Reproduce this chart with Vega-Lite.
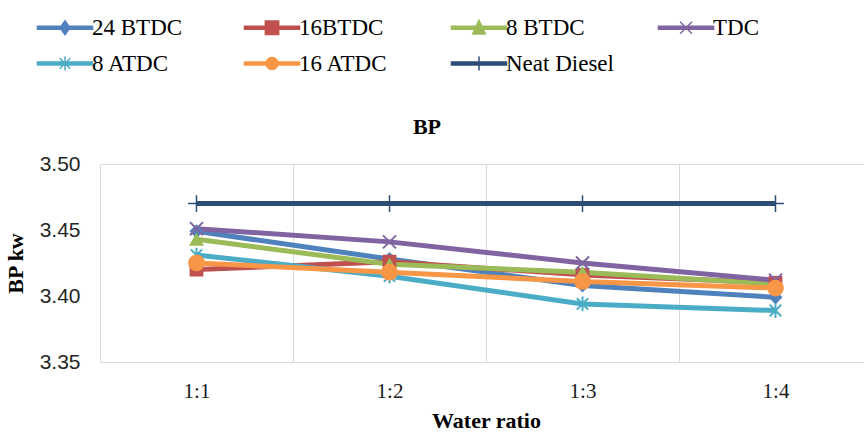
{
  "$schema": "https://vega.github.io/schema/vega-lite/v6.json",
  "width": 772,
  "height": 198,
  "autosize": {"type": "none"},
  "padding": {"left": 100, "top": 164, "right": 0, "bottom": 70},
  "background": "white",
  "title": {
    "text": "BP",
    "frame": "group",
    "anchor": "middle",
    "font": "Liberation Serif",
    "fontSize": 22,
    "fontWeight": "bold",
    "color": "black",
    "baseline": "alphabetic",
    "offset": 0,
    "dy": 140,
    "dx": -59
  },
  "data": {
    "values": [
      {"series": "24 BTDC", "ratio": "1:1", "bp": 3.449},
      {"series": "24 BTDC", "ratio": "1:2", "bp": 3.428},
      {"series": "24 BTDC", "ratio": "1:3", "bp": 3.408},
      {"series": "24 BTDC", "ratio": "1:4", "bp": 3.399},
      {"series": "16BTDC", "ratio": "1:1", "bp": 3.420},
      {"series": "16BTDC", "ratio": "1:2", "bp": 3.426},
      {"series": "16BTDC", "ratio": "1:3", "bp": 3.416},
      {"series": "16BTDC", "ratio": "1:4", "bp": 3.410},
      {"series": "8 BTDC", "ratio": "1:1", "bp": 3.443},
      {"series": "8 BTDC", "ratio": "1:2", "bp": 3.424},
      {"series": "8 BTDC", "ratio": "1:3", "bp": 3.418},
      {"series": "8 BTDC", "ratio": "1:4", "bp": 3.409},
      {"series": "TDC", "ratio": "1:1", "bp": 3.451},
      {"series": "TDC", "ratio": "1:2", "bp": 3.441},
      {"series": "TDC", "ratio": "1:3", "bp": 3.425},
      {"series": "TDC", "ratio": "1:4", "bp": 3.412},
      {"series": "8 ATDC", "ratio": "1:1", "bp": 3.431},
      {"series": "8 ATDC", "ratio": "1:2", "bp": 3.415},
      {"series": "8 ATDC", "ratio": "1:3", "bp": 3.394},
      {"series": "8 ATDC", "ratio": "1:4", "bp": 3.389},
      {"series": "16 ATDC", "ratio": "1:1", "bp": 3.425},
      {"series": "16 ATDC", "ratio": "1:2", "bp": 3.418},
      {"series": "16 ATDC", "ratio": "1:3", "bp": 3.411},
      {"series": "16 ATDC", "ratio": "1:4", "bp": 3.406},
      {"series": "Neat Diesel", "ratio": "1:1", "bp": 3.47},
      {"series": "Neat Diesel", "ratio": "1:2", "bp": 3.47},
      {"series": "Neat Diesel", "ratio": "1:3", "bp": 3.47},
      {"series": "Neat Diesel", "ratio": "1:4", "bp": 3.47}
    ]
  },
  "encoding": {
    "x": {
      "field": "ratio",
      "type": "nominal",
      "sort": ["1:1", "1:2", "1:3", "1:4"],
      "scale": {"type": "band", "paddingInner": 0, "paddingOuter": 0},
      "axis": {
        "title": "Water ratio",
        "titleFont": "Liberation Serif",
        "titleFontSize": 22,
        "titleFontWeight": "bold",
        "titleColor": "black",
        "titlePadding": 9,
        "labelFont": "Liberation Serif",
        "labelFontSize": 21,
        "labelColor": "#1a1a1a",
        "labelAngle": 0,
        "labelPadding": 18,
        "ticks": false,
        "tickBand": "extent",
        "grid": true,
        "gridColor": "#d9d9d9",
        "gridWidth": 1,
        "domainColor": "#d9d9d9",
        "domainWidth": 1
      }
    },
    "y": {
      "field": "bp",
      "type": "quantitative",
      "scale": {"domain": [3.35, 3.5], "zero": false, "nice": false},
      "axis": {
        "title": "BP kw",
        "titleFont": "Liberation Serif",
        "titleFontSize": 22,
        "titleFontWeight": "bold",
        "titleColor": "black",
        "titlePadding": 12,
        "values": [3.35, 3.4, 3.45, 3.5],
        "format": ".2f",
        "labelFont": "Liberation Sans",
        "labelFontSize": 21,
        "labelColor": "#262626",
        "labelPadding": 20,
        "ticks": false,
        "grid": false,
        "domain": false
      }
    }
  },
  "layer": [
    {
      "mark": {"type": "line", "strokeWidth": 5, "strokeJoin": "round", "strokeCap": "butt"},
      "encoding": {
        "color": {
          "field": "series",
          "type": "nominal",
          "scale": {
            "domain": ["24 BTDC", "16BTDC", "8 BTDC", "TDC", "8 ATDC", "16 ATDC", "Neat Diesel"],
            "range": ["#4F81BD", "#C0504D", "#9BBB59", "#8064A2", "#4BACC6", "#F79646", "#2C4D75"]
          },
          "legend": {
            "orient": "none",
            "direction": "horizontal",
            "legendX": -67,
            "legendY": -148,
            "title": null,
            "columns": 4,
            "gridAlign": "all",
            "columnPadding": 40,
            "rowPadding": 12,
            "padding": 0,
            "symbolSize": 196,
            "symbolStrokeWidth": 1.5,
            "labelFont": "Liberation Serif",
            "labelFontSize": 23,
            "labelColor": "black",
            "labelOffset": 36,
            "labelLimit": 200,
            "encode": {
              "symbols": {
                "update": {
                  "shape": {"signal": "datum.value === '24 BTDC' ? 'M-1,-0.2H6.86V0.2H-1ZM2.93,-1L3.63,0L2.93,1L2.23,0Z' : datum.value === '16BTDC' ? 'M-1,-0.2H6.86V0.2H-1ZM1.98,-0.95H3.88V0.95H1.98Z' : datum.value === '8 BTDC' ? 'M-1,-0.2H6.86V0.2H-1ZM2.93,-1.05L3.83,0.9H2.03Z' : datum.value === 'TDC' ? 'M-1,-0.2H6.86V0.2H-1ZM2.08,-0.85L3.78,0.85M2.08,0.85L3.78,-0.85' : datum.value === '8 ATDC' ? 'M-1,-0.2H6.86V0.2H-1ZM2.18,-0.75L3.68,0.75M2.18,0.75L3.68,-0.75M2.93,-1V1' : datum.value === '16 ATDC' ? 'M-1,-0.2H6.86V0.2H-1ZM2.08,0A0.85,0.85,0,1,1,3.78,0A0.85,0.85,0,1,1,2.08,0Z' : 'M-1,-0.2H6.86V0.2H-1ZM2.93,-1V1'"},
                  "fill": {"scale": "color", "field": "value"},
                  "fillOpacity": {"value": 1},
                  "strokeWidth": {"value": 1.5},
                  "opacity": {"value": 1}
                }
              }
            }
          }
        }
      }
    },
    {
      "transform": [{"filter": "datum.series === '24 BTDC'"}],
      "mark": {"type": "point", "shape": "diamond", "filled": true, "color": "#4F81BD", "size": 200, "opacity": 1}
    },
    {
      "transform": [{"filter": "datum.series === '16BTDC'"}],
      "mark": {"type": "point", "shape": "square", "filled": true, "color": "#C0504D", "size": 190, "opacity": 1}
    },
    {
      "transform": [{"filter": "datum.series === '8 BTDC'"}],
      "mark": {"type": "point", "shape": "triangle-up", "filled": true, "color": "#9BBB59", "size": 230, "opacity": 1}
    },
    {
      "transform": [{"filter": "datum.series === 'TDC'"}],
      "mark": {"type": "point", "shape": "M-1,-1L1,1M-1,1L1,-1", "filled": false, "color": "#8064A2", "size": 170, "strokeWidth": 2, "opacity": 1}
    },
    {
      "transform": [{"filter": "datum.series === '8 ATDC'"}],
      "mark": {"type": "point", "shape": "M-0.85,-0.85L0.85,0.85M-0.85,0.85L0.85,-0.85M0,-1.1V1.1", "filled": false, "color": "#4BACC6", "size": 180, "strokeWidth": 2, "opacity": 1}
    },
    {
      "transform": [{"filter": "datum.series === '16 ATDC'"}],
      "mark": {"type": "point", "shape": "circle", "filled": true, "color": "#F79646", "size": 280, "opacity": 1}
    },
    {
      "transform": [{"filter": "datum.series === 'Neat Diesel'"}],
      "mark": {"type": "point", "shape": "M0,-1.2V1.2M-1.2,0H1.2", "filled": false, "color": "#2C4D75", "size": 196, "strokeWidth": 1.5, "opacity": 1}
    }
  ]
}
